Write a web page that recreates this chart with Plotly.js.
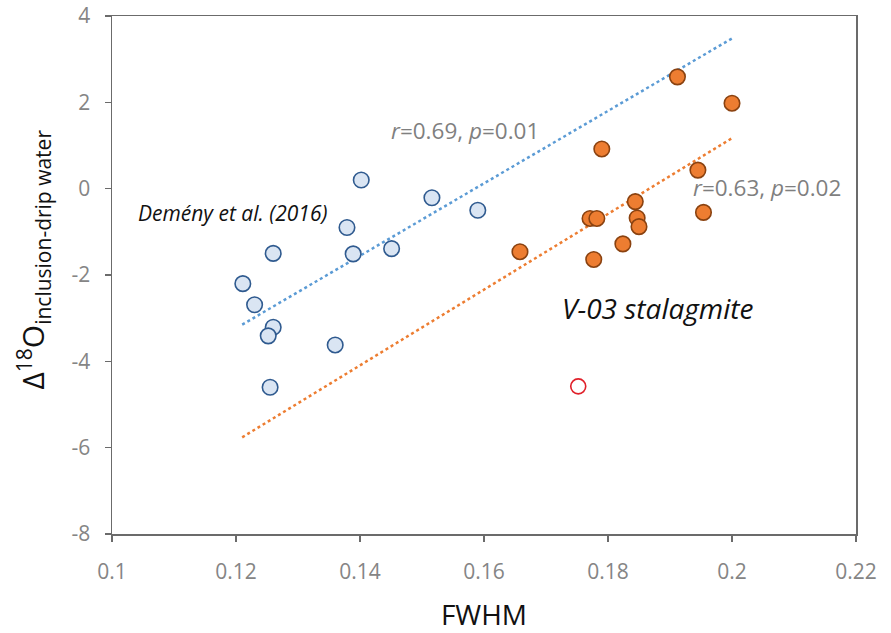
<!DOCTYPE html>
<html>
<head>
<meta charset="utf-8">
<script src="https://cdn.plot.ly/plotly-3.0.1.min.js"></script>
<style>html,body{margin:0;padding:0;background:#fff;}#chart{width:891px;height:633px;}</style>
</head>
<body>
<div id="chart"></div>
<script>
// Demény et al. (2016) data
const demenyX = [0.1402, 0.1516, 0.1590, 0.1379, 0.1260, 0.1389, 0.1451, 0.1211, 0.1230, 0.1260, 0.1252, 0.1360, 0.1255];
const demenyY = [0.20, -0.21, -0.50, -0.90, -1.50, -1.51, -1.39, -2.20, -2.69, -3.21, -3.41, -3.62, -4.60];

// V-03 stalagmite data
const v03X = [0.1912, 0.2000, 0.1790, 0.1945, 0.1844, 0.1954, 0.1771, 0.1782, 0.1847, 0.1850, 0.1824, 0.1658, 0.1777];
const v03Y = [2.59, 1.98, 0.92, 0.43, -0.30, -0.55, -0.69, -0.69, -0.68, -0.88, -1.28, -1.46, -1.64];

// Outlier (open red circle)
const outlierX = [0.1752];
const outlierY = [-4.58];

// Trend lines (end points)
const trendX = [0.121, 0.200];
const demenyTrendY = [-3.15, 3.48];
const v03TrendY = [-5.76, 1.17];

// Ticks
const xTickVals = [0.1, 0.12, 0.14, 0.16, 0.18, 0.2, 0.22];
const xTickText = ['0.1', '0.12', '0.14', '0.16', '0.18', '0.2', '0.22'];
const yTickVals = [-8, -6, -4, -2, 0, 2, 4];
const yTickText = ['-8', '-6', '-4', '-2', '0', '2', '4'];

const FONT = 'Open Sans, sans-serif';

const traces = [
  {x: trendX, y: demenyTrendY, mode: 'lines', line: {color: '#5b9bd5', width: 2.5, dash: 'dot'}, hoverinfo: 'skip'},
  {x: trendX, y: v03TrendY, mode: 'lines', line: {color: '#ed7d31', width: 2.5, dash: 'dot'}, hoverinfo: 'skip'},
  {x: demenyX, y: demenyY, mode: 'markers', marker: {size: 15.5, color: '#dae5f3', line: {color: '#2f5a8f', width: 1.6}}},
  {x: v03X, y: v03Y, mode: 'markers', marker: {size: 15.5, color: '#ed7d31', line: {color: '#8a4210', width: 1.6}}},
  {x: outlierX, y: outlierY, mode: 'markers', marker: {size: 15, color: 'rgba(255,255,255,0)', line: {color: '#e0202a', width: 1.6}}}
];

const layout = {
  width: 891, height: 633,
  margin: {l: 112, r: 35, t: 16, b: 99},
  paper_bgcolor: '#fff', plot_bgcolor: '#fff',
  showlegend: false,
  font: {family: FONT},
  xaxis: {
    range: [0.1, 0.22], tickvals: xTickVals, ticktext: xTickText,
    showgrid: false, zeroline: false, showline: true, mirror: true,
    linecolor: '#6b6b6b', linewidth: 1.5, ticks: 'outside', ticklen: 6, tickwidth: 1.3, tickcolor: '#6b6b6b',
    ticklabelstandoff: 12,
    tickfont: {size: 21, color: '#858585', family: FONT},
    title: {text: 'FWHM', font: {size: 28, color: '#111', family: FONT}, standoff: 25}
  },
  yaxis: {
    range: [-8, 4], tickvals: yTickVals, ticktext: yTickText,
    showgrid: false, zeroline: false, showline: true, mirror: true,
    linecolor: '#6b6b6b', linewidth: 1.5, ticks: 'outside', ticklen: 6, tickwidth: 1.3, tickcolor: '#6b6b6b',
    ticklabelstandoff: 10,
    tickfont: {size: 21, color: '#858585', family: FONT}
  },
  annotations: [
    {xref: 'paper', yref: 'paper', x: -0.106, y: 0.53, xanchor: 'center', yanchor: 'middle', textangle: -90, showarrow: false,
     text: 'Δ<sup>18</sup>O<sub>inclusion-drip water</sub>', font: {size: 30, color: '#111', family: FONT}},
    {x: 0.1569, y: 1.34, showarrow: false, xanchor: 'center', yanchor: 'middle',
     text: '<i>r</i>=0.69, <i>p</i>=0.01', font: {size: 22.5, color: '#7f7f7f', family: FONT}},
    {x: 0.2056, y: 0.02, showarrow: false, xanchor: 'center', yanchor: 'middle',
     text: '<i>r</i>=0.63, <i>p</i>=0.02', font: {size: 22.5, color: '#7f7f7f', family: FONT}},
    {x: 0.1194, y: -0.56, showarrow: false, xanchor: 'center', yanchor: 'middle',
     text: '<i>Demény et al. (2016)</i>', font: {size: 21, color: '#111', family: FONT}},
    {x: 0.1881, y: -2.76, showarrow: false, xanchor: 'center', yanchor: 'middle',
     text: '<i>V-03 stalagmite</i>', font: {size: 28, color: '#111', family: FONT}}
  ]
};

Plotly.newPlot('chart', traces, layout, {staticPlot: true, displayModeBar: false});
</script>
</body>
</html>
